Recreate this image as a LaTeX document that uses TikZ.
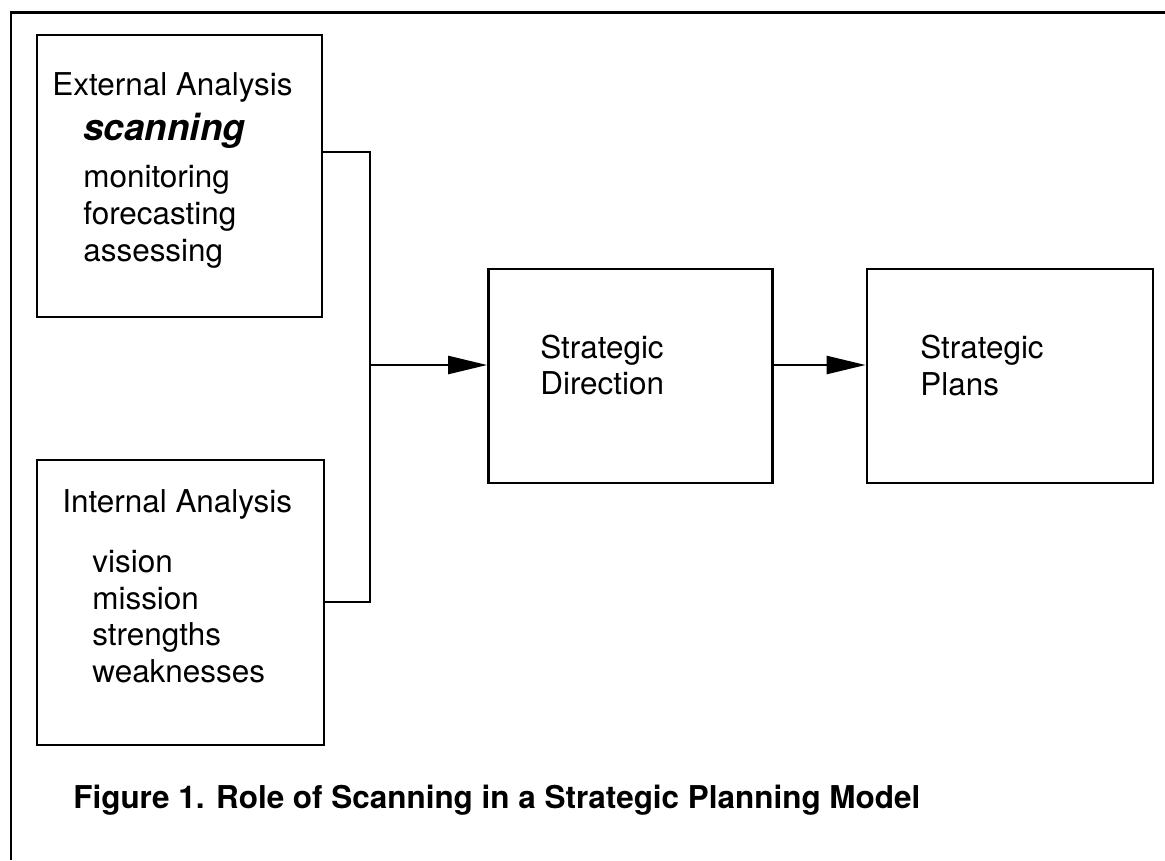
\documentclass[tikz,border=0pt]{standalone}
\usepackage{fontspec}
\setmainfont{TeX Gyre Heros}
\usetikzlibrary{arrows.meta}

\tikzset{
  box/.style={draw, line width=1.6pt, inner sep=0pt},
  txt/.style={anchor=base west, inner sep=0pt, font=\fontsize{17.9pt}{21pt}\selectfont},
  wire/.style={line width=1.4pt},
  arrow/.style={wire, -{Triangle[length=0.78cm, width=0.36cm]}}
}

\begin{document}
\begin{tikzpicture}[x=0.02cm, y=-0.02cm]
  \useasboundingbox (0,0) rectangle (1165,860);

  % page frame
  \draw[line width=1.7pt] (11,860) -- (11,12) -- (1165,12);

  % boxes
  \node[box, minimum width=5.7cm, minimum height=5.64cm] (ext) at (179.5,176) {};
  \node[box, minimum width=5.74cm, minimum height=5.7cm] (int) at (180.5,602.5) {};
  \node[box, minimum width=5.68cm, minimum height=4.28cm] (dir) at (630.5,376) {};
  \node[box, minimum width=5.72cm, minimum height=4.28cm] (plans) at (1010,376) {};

  % external analysis
  \node[txt] (exttitle) at (52,95) {External Analysis};
  \node[txt, font=\fontsize{21pt}{24pt}\selectfont\bfseries\itshape] (scan) at (83,140) {scanning};
  \node[txt] (mon) at (83,187) {monitoring};
  \node[txt] (fore) at (83,224) {forecasting};
  \node[txt] (ass) at (83,261) {assessing};

  % internal analysis
  \node[txt] (inttitle) at (62,512) {Internal Analysis};
  \node[txt] (vis) at (92,572) {vision};
  \node[txt] (mis) at (92,609) {mission};
  \node[txt] (str) at (92,645) {strengths};
  \node[txt] (weak) at (92,682) {weaknesses};

  % direction and plans
  \node[txt] (dir1) at (540,358) {Strategic};
  \node[txt] (dir2) at (540,394) {Direction};
  \node[txt] (plan1) at (920,358) {Strategic};
  \node[txt] (plan2) at (920,395) {Plans};

  % connectors
  \coordinate (eout) at (ext.east |- 0,152);
  \coordinate (iout) at (int.east |- 0,602);
  \coordinate (bus) at (370,365);
  \draw[wire] (eout) -| (bus) |- (iout);
  \draw[arrow] (bus) -- (bus -| dir.west);
  \draw[arrow] (bus -| dir.east) -- (bus -| plans.west);

  % caption
  \node[txt, font=\fontsize{17.9pt}{21pt}\selectfont\bfseries] (cap) at (73,808)
    {Figure 1. Role of Scanning in a Strategic Planning Model};
\end{tikzpicture}
\end{document}
